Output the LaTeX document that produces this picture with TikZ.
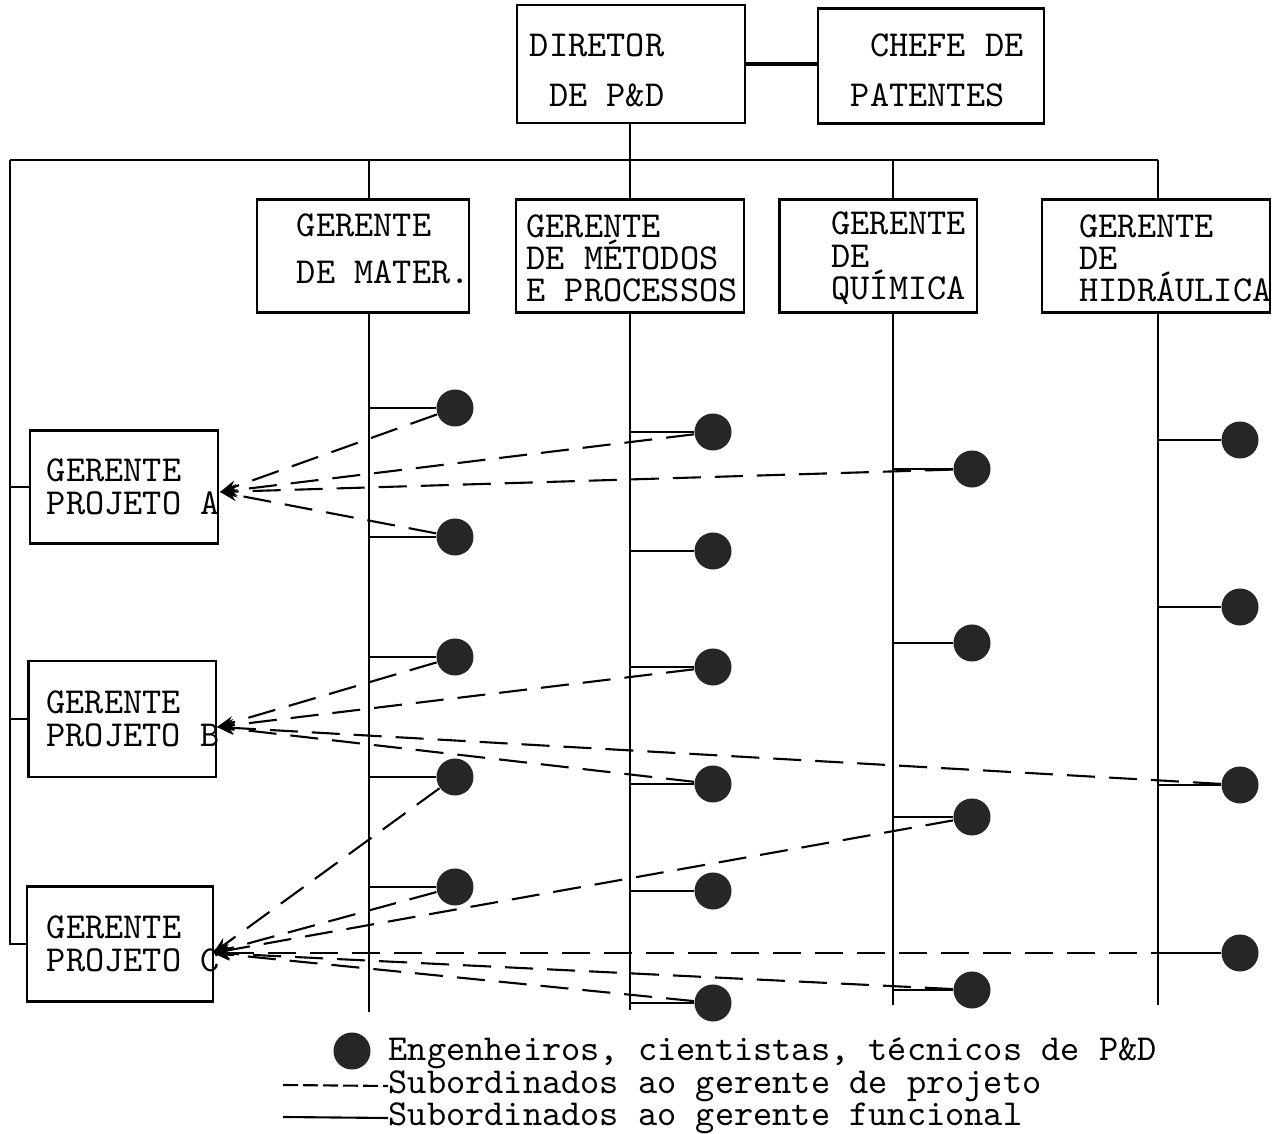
\documentclass[tikz,border=0pt]{standalone}
\usetikzlibrary{arrows.meta,calc}

\tikzset{
  box/.style={draw, fill=white, line width=0.6pt, align=left, inner xsep=0pt, inner ysep=0pt,
    font=\fontsize{10.4}{9.2}\selectfont\ttfamily,
    execute at begin node={\spaceskip=0pt\xspaceskip=0pt}},
  legend/.style={inner sep=0pt, font=\fontsize{10.4}{12}\selectfont\ttfamily},
  staff/.style={circle, fill=black!85, minimum size=0.37cm, inner sep=0pt},
  func/.style={line width=0.6pt},
  proj/.style={line width=0.6pt, dash pattern=on 2.8mm off 1.4mm, -{Stealth[length=1.7mm,width=1.2mm]}},
}

\begin{document}
\begin{tikzpicture}[x=0.01cm, y=-0.01cm]
\useasboundingbox (0,0) rectangle (1284,1134);

% lines of the functional columns (boxes are drawn on top)
\coordinate (bar-l) at (10,160);
\coordinate (bar-r) at (1158,160);
\coordinate (colm) at (369,1012);
\coordinate (colme) at (630,1010);
\coordinate (colq) at (893,1005);
\coordinate (colh) at (1158,1005);

% director and patents
\node[box, minimum width=2.28cm, minimum height=1.18cm, text width=2.02cm] (dir) at (631,64)
  {\rule{0pt}{10.3pt}DIRETOR\\[5pt]\phantom{D}DE P\&D};
\node[box, minimum width=2.26cm, minimum height=1.15cm, text width=1.60cm] (pat) at (931,66)
  {\rule{0pt}{9.2pt}\mbox{\phantom{C}CHEFE DE}\\[5pt]PATENTES};
\draw[line width=1pt] (dir.east) -- (dir.east -| pat.west);

\draw[func] (bar-l) -- (bar-r);
\draw[func] (bar-l -| colm) -- (colm);
\draw[func] (dir.south -| colme) -- (colme);
\draw[func] (bar-l -| colq) -- (colq);
\draw[func] (bar-r) -- (colh);

% functional managers
\node[box, minimum width=2.12cm, minimum height=1.13cm, text width=1.32cm] (mat) at (363,256)
  {\mbox{GERENTE}\\[4.2pt]\mbox{DE MATER.}\rule[-4pt]{0pt}{4pt}};
\node[box, minimum width=2.27cm, minimum height=1.13cm, text width=2.07cm] (met) at (630,256)
  {\rule{0pt}{7.8pt}GERENTE\\\mbox{DE MÉTODOS}\\\mbox{E PROCESSOS}};
\node[box, minimum width=1.97cm, minimum height=1.13cm, text width=0.93cm] (qui) at (878,256)
  {\rule{0pt}{7.8pt}\mbox{GERENTE}\\DE\\\mbox{QUÍMICA}};
\node[box, minimum width=2.27cm, minimum height=1.13cm, text width=1.53cm] (hid) at (1156,256)
  {\rule{0pt}{7.8pt}GERENTE\\DE\\\mbox{HIDRÁULICA}};

% project managers
\node[box, minimum width=1.88cm, minimum height=1.13cm, text width=1.54cm] (pa) at (124,487)
  {GERENTE\\\mbox{PROJETO A}};
\node[box, minimum width=1.87cm, minimum height=1.16cm, text width=1.51cm] (pb) at (122,719)
  {GERENTE\\\mbox{PROJETO B}};
\node[box, minimum width=1.86cm, minimum height=1.15cm, text width=1.46cm] (pc) at (120,944)
  {GERENTE\\\mbox{PROJETO C}};
\draw[func] (bar-l) -- (bar-l |- pc.west) -- (pc.west);
\draw[func] (pa.west -| bar-l) -- (pa.west);
\draw[func] (pb.west -| bar-l) -- (pb.west);
\coordinate (pa-tip) at (220,492);
\coordinate (pb-tip) at (217,727);
\coordinate (pc-tip) at (213,953);

% engineers, scientists, technicians
\foreach \n/\y in {1/408,2/537,3/657,4/777,5/887} {
  \node[staff] (ma\n) at (455,\y) {};
  \draw[func] (ma\n) -- (ma\n -| colm);
}
\foreach \n/\y in {1/432,2/551,3/667,4/784,5/891,6/1003} {
  \node[staff] (me\n) at (713,\y) {};
  \draw[func] (me\n) -- (me\n -| colme);
}
\foreach \n/\y in {1/469,2/643,3/817,4/990} {
  \node[staff] (q\n) at (972,\y) {};
  \draw[func] (q\n) -- (q\n -| colq);
}
\foreach \n/\y in {1/440,2/607,3/785,4/953} {
  \node[staff] (h\n) at (1240,\y) {};
  \draw[func] (h\n) -- (h\n -| colh);
}

% links to the project managers
\foreach \s in {ma1,me1,q1,ma2} \draw[proj] (\s) -- (pa-tip);
\foreach \s in {ma3,me3,me4,h3} \draw[proj] (\s) -- (pb-tip);
\foreach \s in {ma4,ma5,q3,h4,me6,q4} \draw[proj] (\s) -- (pc-tip);

% legend
\node[staff] (lg-dot) at (352,1051) {};
\node[legend, anchor=west] (lg1) at (388,1053) {Engenheiros, cientistas, técnicos de P\&D};
\node[legend, anchor=west] (lg2) at (388,1086) {Subordinados ao gerente de projeto};
\node[legend, anchor=west] (lg3) at (388,1118) {Subordinados ao gerente funcional};
\coordinate (lg2-s) at (283,1085);
\coordinate (lg3-s) at (283,1117);
\draw[line width=0.6pt, dash pattern=on 1.5mm off 0.5mm] (lg2-s) -- (lg2.west);
\draw[func] (lg3-s) -- (lg3.west);
\end{tikzpicture}
\end{document}
